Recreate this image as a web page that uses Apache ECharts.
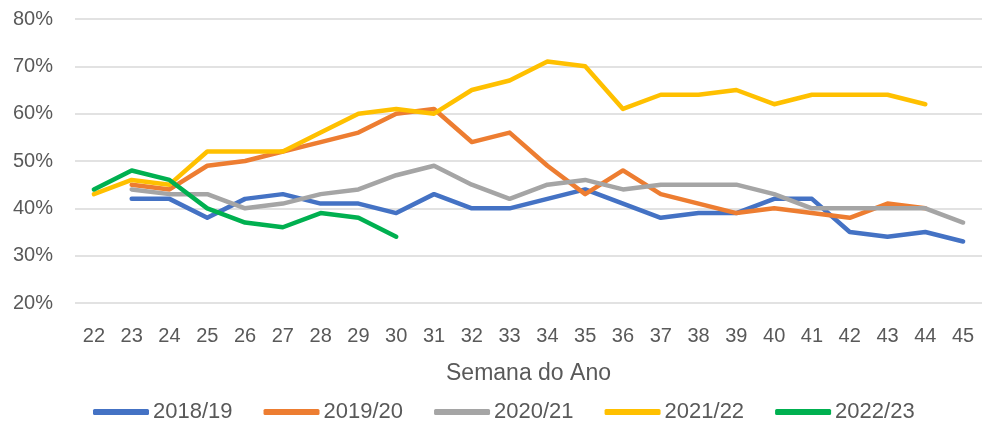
<!DOCTYPE html>
<html><head><meta charset="utf-8">
<script src="https://cdn.jsdelivr.net/npm/echarts@6/dist/echarts.min.js"></script>
<style>html,body{margin:0;padding:0;background:#fff}#c{width:985px;height:421px}</style>
</head><body><div id="c"></div>
<script>
const weeks = ['22','23','24','25','26','27','28','29','30','31','32','33','34','35','36','37','38','39','40','41','42','43','44','45'];
const s2018 = [null,42,42,38,42,43,41,41,39,43,40,40,42,44,41,38,39,39,42,42,35,34,35,33];
const s2019 = [null,45,44,49,50,52,54,56,60,61,54,56,49,43,48,43,41,39,40,39,38,41,40,null];
const s2020 = [null,44,43,43,40,41,43,44,47,49,45,42,45,46,44,45,45,45,43,40,40,40,40,37];
const s2021 = [43,46,45,52,52,52,56,60,61,60,65,67,71,70,61,64,64,65,62,64,64,64,62,null];
const s2022 = [44,48,46,40,37,36,39,38,34,null,null,null,null,null,null,null,null,null,null,null,null,null,null,null];
const seriesNames = ['2018/19','2019/20','2020/21','2021/22','2022/23'];
const colors = ['#4472C4','#ED7D31','#A5A5A5','#FFC000','#00B050'];
const yTicks = [20,30,40,50,60,70,80];

const FONT = '"Liberation Sans",Arial,sans-serif';
const data = [s2018,s2019,s2020,s2021,s2022];
const chart = echarts.init(document.getElementById('c'));
chart.setOption({
  animation:false,
  color: colors,
  grid:{left:75,right:3,top:19,bottom:118,containLabel:false},
  legend:{
    top:396,left:88,itemWidth:56,itemHeight:6,itemGap:31,icon:'roundRect',
    textStyle:{fontFamily:FONT,fontSize:22,color:'#595959',padding:[0,0,0,-1]},
    data: seriesNames
  },
  xAxis:{
    type:'category',data:weeks,boundaryGap:true,
    axisLine:{show:false},axisTick:{show:false},
    axisLabel:{fontFamily:FONT,fontSize:20,color:'#595959',margin:23},
    name:'Semana do Ano',nameLocation:'middle',nameGap:59,
    nameTextStyle:{fontFamily:FONT,fontSize:23,color:'#595959'}
  },
  yAxis:{
    type:'value',min:yTicks[0],max:yTicks[yTicks.length-1],interval:10,
    axisLabel:{fontFamily:FONT,fontSize:20,color:'#595959',margin:22,formatter:'{value}%'},
    splitLine:{lineStyle:{color:'#D9D9D9',width:1.5}},
    axisLine:{show:false},axisTick:{show:false}
  },
  series: data.map((d,i)=>({
    name:seriesNames[i],type:'line',data:d,showSymbol:false,symbol:'none',
    lineStyle:{width:4.5,color:colors[i],cap:'round',join:'round'},
    itemStyle:{color:colors[i]},connectNulls:false
  }))
});
</script></body></html>
